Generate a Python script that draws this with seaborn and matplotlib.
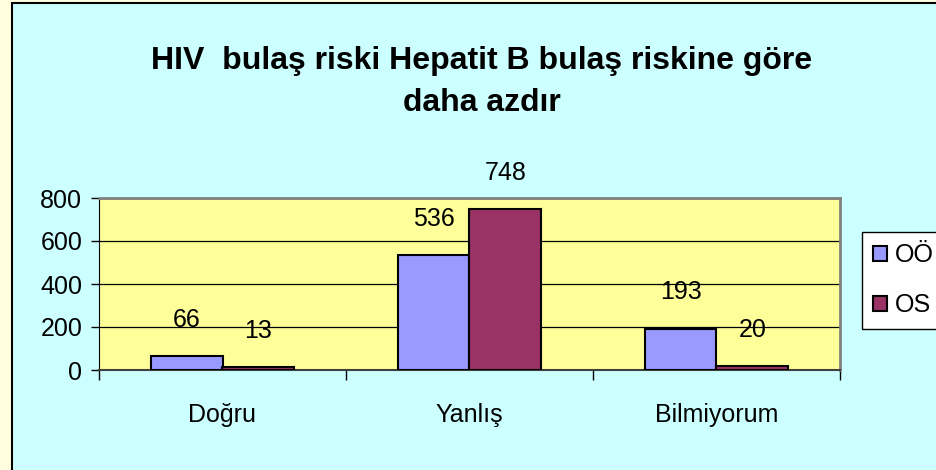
import pandas as pd
import matplotlib
matplotlib.use('Agg')
import matplotlib.pyplot as plt
import matplotlib.patches as mpatches
from matplotlib.ticker import FixedLocator
import seaborn as sns

# veriler
categories = ['Doğru', 'Yanlış', 'Bilmiyorum']
groups = ['OÖ', 'OS']
oo_values = [66, 536, 193]
os_values = [13, 748, 20]
title_text = 'HIV  bulaş riski Hepatit B bulaş riskine göre\ndaha azdır'

colors = {'OÖ': '#9999FF', 'OS': '#993366'}

df = pd.DataFrame({
    'kategori': categories * 2,
    'grup': [groups[0]] * 3 + [groups[1]] * 3,
    'deger': oo_values + os_values,
})

plt.rcParams['font.family'] = ['Liberation Sans', 'DejaVu Sans']
fs, fs_title = 18, 23

fig = plt.figure(figsize=(9.36, 4.70), dpi=100, facecolor='#FFFFE0')
# cyan panel
panel = mpatches.Rectangle((12/936, -0.1), 1.2, 1 - 3/470 + 0.1,
                           transform=fig.transFigure, facecolor='#CCFFFF',
                           edgecolor='black', lw=1.5, zorder=-1)
fig.patches.append(panel)

ax = fig.add_axes([99/936, 1 - 370/470, (840 - 99)/936, (370 - 198)/470])
ax.set_facecolor('#FFFF99')

sns.barplot(data=df, x='kategori', y='deger', hue='grup', hue_order=groups,
            palette=colors, width=0.58, gap=0, edgecolor='black', linewidth=1.5,
            saturation=1, legend=False, ax=ax, zorder=3)

# değer etiketleri
for cont in ax.containers:
    for bar in cont:
        h = bar.get_height()
        ax.annotate(f'{int(round(h))}', (bar.get_x() + bar.get_width()/2, h),
                    xytext=(0, 26), textcoords='offset points',
                    ha='center', va='center', fontsize=fs, zorder=5,
                    annotation_clip=False)

ax.set_xlim(-0.5, 2.5)
ax.set_ylim(0, 800)
ax.set_yticks([0, 200, 400, 600, 800])
ax.yaxis.grid(True, color='black', lw=0.9, zorder=1)
ax.set_axisbelow(True)
ax.set_xlabel('')
ax.set_ylabel('')

ax.xaxis.set_minor_locator(FixedLocator([-0.5, 0.5, 1.5, 2.5]))
ax.tick_params(axis='x', which='major', length=0, pad=24, labelsize=fs)
ax.tick_params(axis='x', which='minor', length=7, width=1, color='black')
ax.tick_params(axis='y', length=6, width=1, pad=6, labelsize=fs)

for s in ['top', 'right']:
    ax.spines[s].set_color('#808080')
    ax.spines[s].set_linewidth(2)
ax.spines['left'].set_color('black')
ax.spines['bottom'].set_color('#404040')
ax.spines['bottom'].set_linewidth(1.5)

fig.text(0.515, 1 - 82/470, title_text, ha='center', va='center',
         fontsize=fs_title, fontweight='bold', linespacing=1.55)

handles = [mpatches.Patch(facecolor=colors[g], edgecolor='black', lw=1.5) for g in groups]
leg = ax.legend(handles, groups, loc='upper left',
                bbox_to_anchor=(862/936, 1 - 232/470), bbox_transform=fig.transFigure,
                fontsize=fs, frameon=True, fancybox=False, edgecolor='black',
                facecolor='white', framealpha=1, handlelength=0.55, handleheight=0.55,
                handletextpad=0.3, borderpad=0.45, labelspacing=1.05, borderaxespad=0)
leg.get_frame().set_linewidth(1)

fig.savefig('out.png', dpi=100, facecolor=fig.get_facecolor())
